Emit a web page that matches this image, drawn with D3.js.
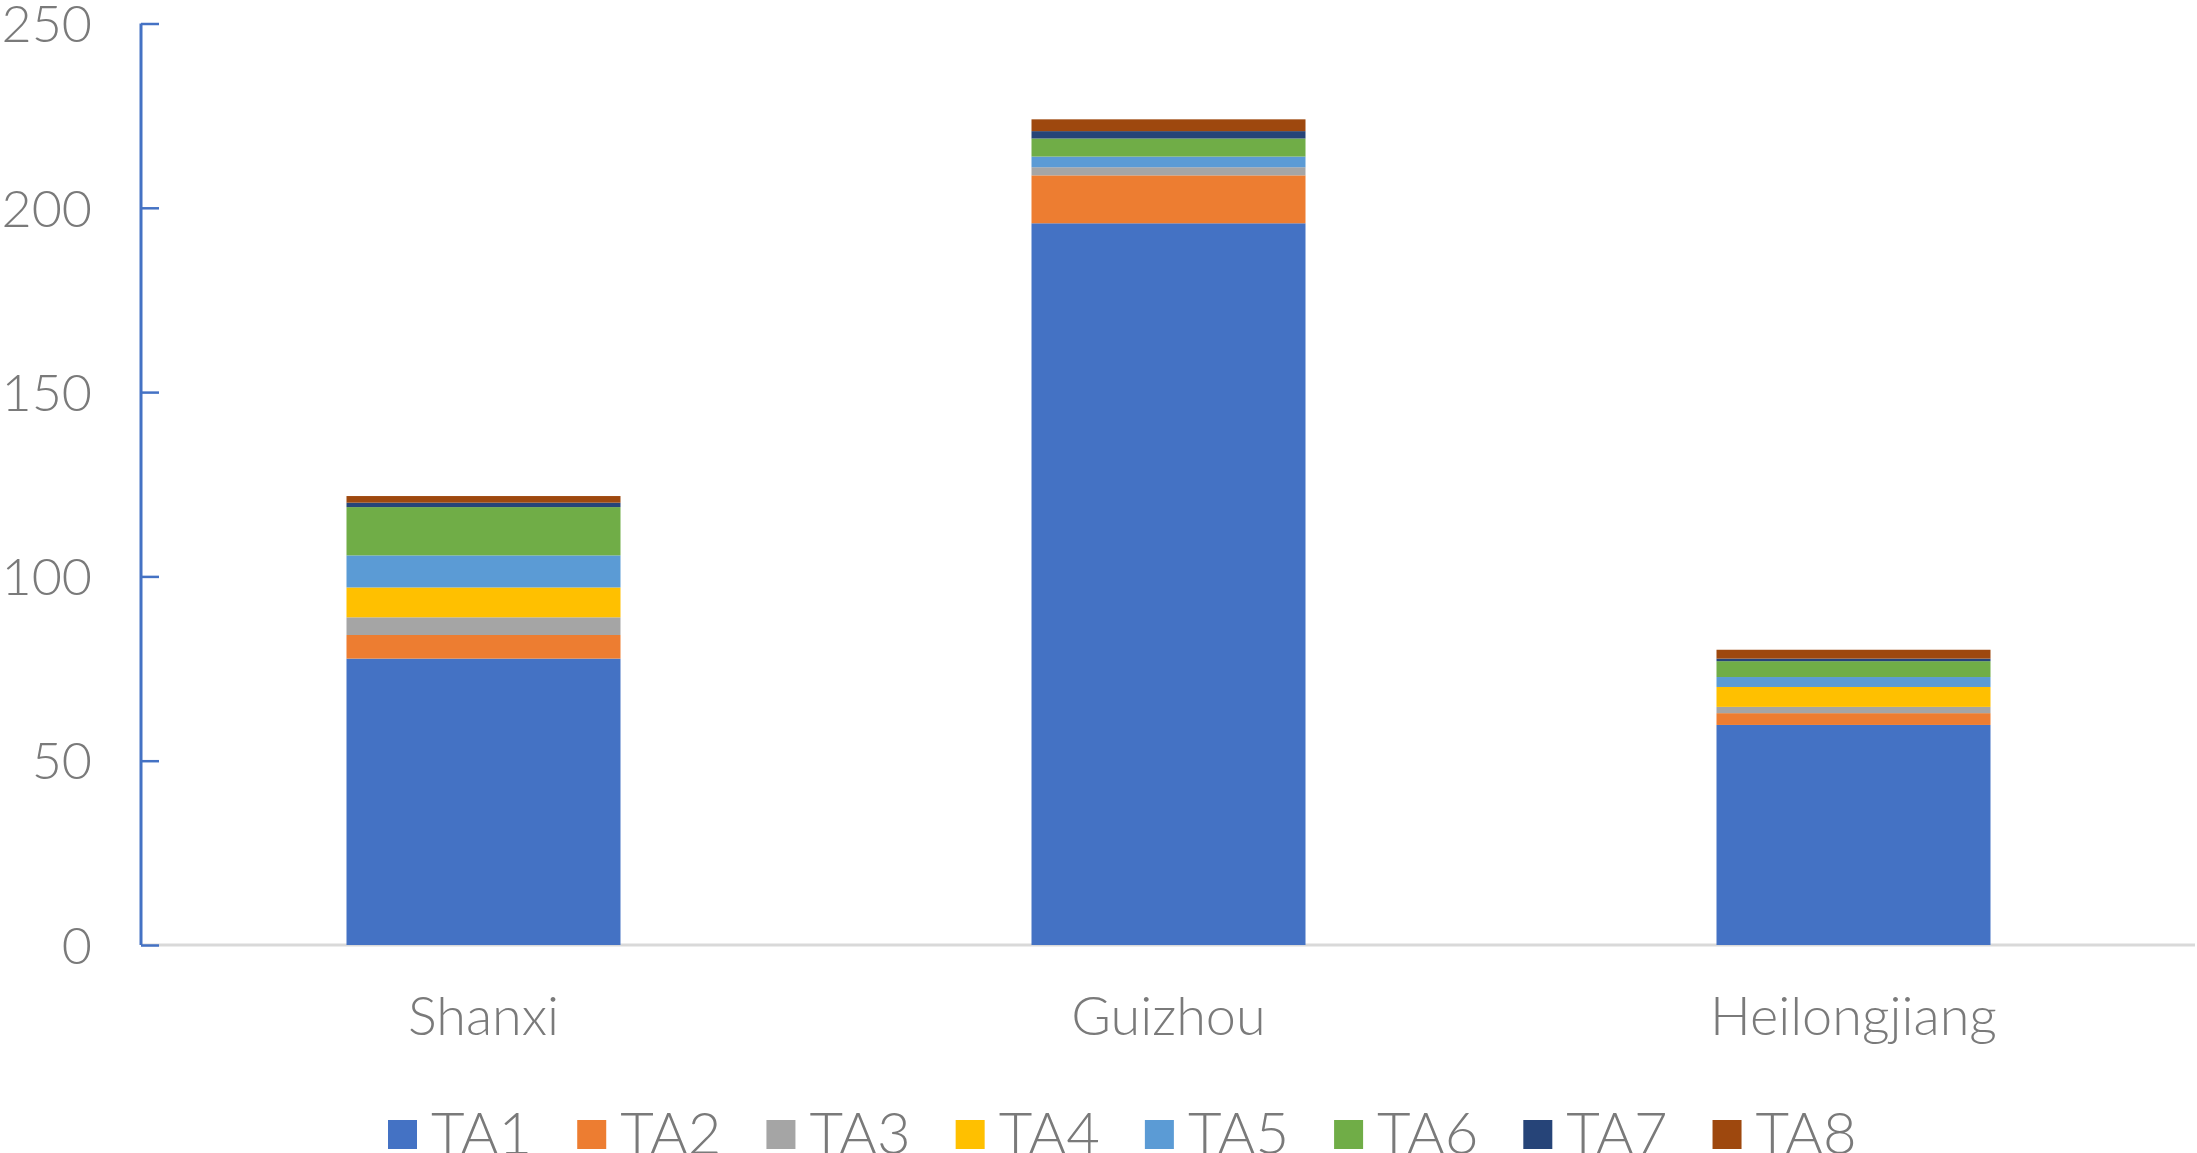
<!DOCTYPE html>
<html>
<head>
<meta charset="utf-8">
<script src="https://cdn.jsdelivr.net/npm/d3@7"></script>
<style>
  html, body { margin: 0; padding: 0; background: #fff; overflow: hidden; }
  svg { display: block; }
  text { font-family: Lato, "Open Sans", sans-serif; font-weight: 300; fill: #7a7a7a; }
</style>
</head>
<body>
<script>
const categories = ["Shanxi", "Guizhou", "Heilongjiang"];
const seriesNames = ["TA1", "TA2", "TA3", "TA4", "TA5", "TA6", "TA7", "TA8"];
const TA1 = [77.7, 195.8, 59.7];
const TA2 = [6.4, 13.0, 3.2];
const TA3 = [4.8, 2.2, 1.7];
const TA4 = [8.1, 0.0, 5.4];
const TA5 = [8.7, 2.9, 2.7];
const TA6 = [13.1, 4.9, 4.3];
const TA7 = [1.2, 2.0, 0.7];
const TA8 = [1.8, 3.2, 2.4];
const yTicks = [0, 50, 100, 150, 200, 250];
const colors = ["#4472C4", "#ED7D31", "#A5A5A5", "#FFC000", "#5B9BD5", "#70AD47", "#264478", "#9E480E"];

const seriesValues = [TA1, TA2, TA3, TA4, TA5, TA6, TA7, TA8];
const rows = categories.map((c, i) => {
  const r = { category: c };
  seriesNames.forEach((s, k) => { r[s] = seriesValues[k][i]; });
  return r;
});

const W = 2197, H = 1153;
const svg = d3.select("body").append("svg").attr("width", W).attr("height", H);

const x = d3.scaleBand().domain(categories).range([141, 2196]).paddingInner(0.6).paddingOuter(0.3);
const y = d3.scaleLinear().domain([0, 250]).range([945, 23.5]);

const stack = d3.stack().keys(seriesNames)(rows);

// baseline
svg.append("line")
  .attr("x1", 141).attr("x2", 2195)
  .attr("y1", y(0)).attr("y2", y(0))
  .attr("stroke", "#d9d9d9").attr("stroke-width", 3);

// bars
svg.append("g").selectAll("g").data(stack).join("g")
  .attr("fill", (d, i) => colors[i])
  .selectAll("rect").data(d => d).join("rect")
  .attr("x", d => x(d.data.category))
  .attr("width", x.bandwidth())
  .attr("y", d => y(d[1]))
  .attr("height", d => Math.max(0, y(d[0]) - y(d[1])));

// y axis
const yAxis = d3.axisRight(y).tickValues(yTicks).tickSize(18).tickFormat("");
const gy = svg.append("g").attr("transform", "translate(141,0)").call(yAxis);
gy.select(".domain").attr("stroke", "#4472C4").attr("stroke-width", 3)
  .attr("d", `M0,${y(250)}V${y(0)}`);
gy.selectAll(".tick line").attr("stroke", "#4472C4").attr("stroke-width", 2.5);

svg.append("g").selectAll("text").data(yTicks).join("text")
  .attr("x", 92).attr("y", d => y(d))
  .attr("dy", "0.36em")
  .attr("text-anchor", "end")
  .style("font-size", "52px")
  .text(d => d);

// x labels
const xAxis = d3.axisBottom(x).tickSize(0);
const gx = svg.append("g").attr("transform", `translate(0,${y(0)})`).call(xAxis);
gx.select(".domain").remove();
gx.selectAll(".tick text")
  .attr("y", 90).attr("dy", 0)
  .style("font-size", "54px")
  .style("font-family", "Lato, 'Open Sans', sans-serif")
  .style("font-weight", 300)
  .attr("fill", "#7a7a7a");

// legend
const legend = svg.append("g");
let lx = 388;
seriesNames.forEach((s, i) => {
  legend.append("rect")
    .attr("x", lx).attr("y", 1120).attr("width", 29).attr("height", 29)
    .attr("fill", colors[i]);
  const t = legend.append("text")
    .attr("x", lx + 43).attr("y", 1154)
    .style("font-size", "58px")
    .text(s);
  const w = t.node().getComputedTextLength();
  lx += 43 + w + 45;
});
</script>
</body>
</html>
